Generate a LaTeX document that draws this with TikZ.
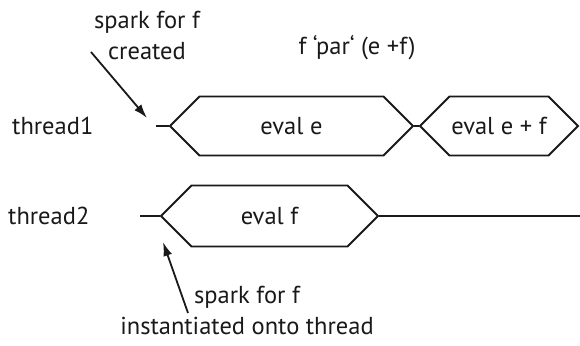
\documentclass[tikz,border=0pt]{standalone}
\usepackage{fontspec}
\setmainfont{PT Sans}[Ligatures=ResetAll]
\usetikzlibrary{shapes.symbols,arrows.meta}

\begin{document}
\begin{tikzpicture}[x=1pt,y=-1pt,
    every node/.style={font=\fontsize{24.5}{31}\selectfont, text=black!90},
    evalbox/.style={draw=black!90, line width=1.8pt, signal, signal to=west and east,
      signal pointer angle=90, inner sep=0pt, minimum height=59pt},
    timeline/.style={draw=black!90, line width=1.8pt},
    pointer/.style={draw=black!90, fill=black!90, line width=1.8pt,
      -{Latex[length=14pt,width=9pt]}}]
    % Fix the page size
    \useasboundingbox (0,0) rectangle (580,345);

    % Thread labels
    \node[anchor=west, inner sep=0pt] (thread1) at (12,126) {thread1};
    \node[anchor=west, inner sep=0pt] (thread2) at (8,216) {thread2};

    % Expression on top
    \node (expr) at (357,48) {f \char"60 par\char"60\ (e +f)};

    % Evaluations on thread1
    \node[evalbox, minimum width=243pt] (evale) at (291.5,126) {eval e};
    \node[evalbox, minimum width=158pt] (evalef) at (499,126) {eval e + f};

    % Evaluation on thread2
    \node[evalbox, minimum width=217pt, minimum height=61pt] (evalf) at (269.5,216) {eval f};

    % Thread lines
    \coordinate (t1start) at (156,126);
    \coordinate (t2start) at (140,216);
    \coordinate (t2end) at (580,216);
    \draw[timeline] (t1start) -- (evale.west);
    \draw[timeline] (evale.east) -- (evalef.west);
    \draw[timeline] (t2start) -- (evalf.west);
    \draw[timeline] (evalf.east) -- (t2end);

    % Spark created
    \node[align=center] (created) at (147,35) {spark for f\\created};
    \coordinate (createdtail) at (91,52);
    \coordinate (createdtip) at (147,118);
    \draw[pointer] (createdtail) -- (createdtip);

    % Spark instantiated
    \node[align=center] (instantiated) at (247,310) {spark for f\\instantiated onto thread};
    \coordinate (insttail) at (188,313);
    \coordinate (insttip) at (163,242);
    \draw[pointer] (insttail) -- (insttip);
\end{tikzpicture}
\end{document}
